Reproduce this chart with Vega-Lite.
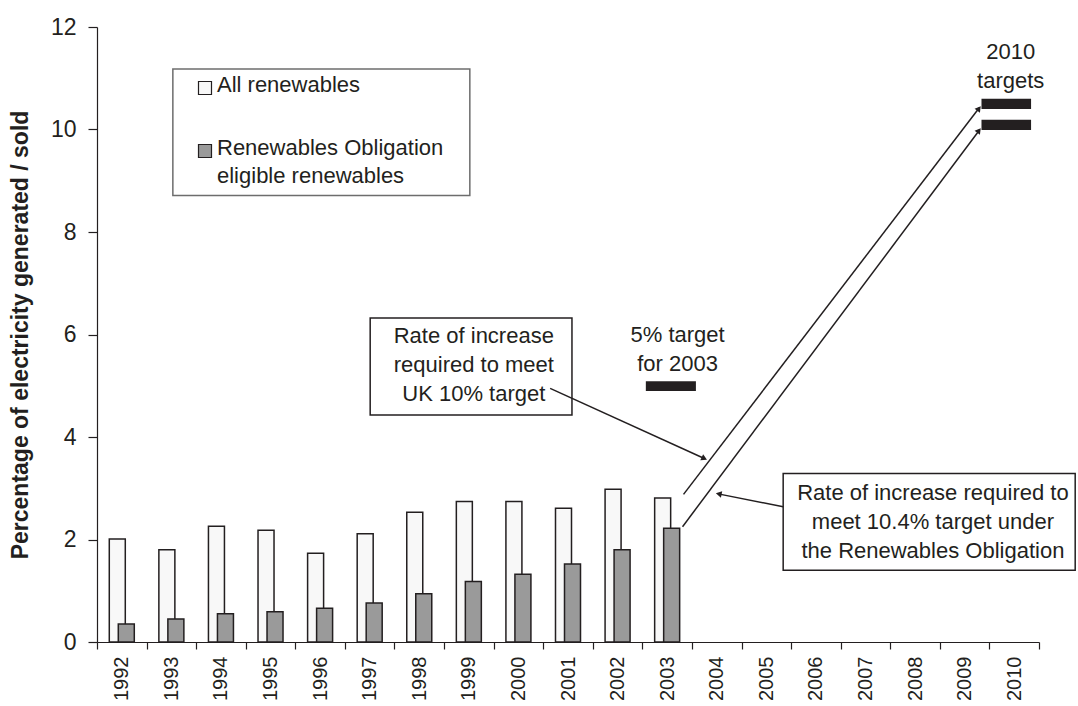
{
  "$schema": "https://vega.github.io/schema/vega-lite/v6.json",
  "autosize": {"type": "none"},
  "padding": {"left": 97, "top": 27, "right": 39, "bottom": 64},
  "width": 942,
  "height": 615,
  "background": "white",
  "config": {
    "font": "Liberation Sans",
    "view": {"stroke": null},
    "text": {"font": "Liberation Sans", "color": "#231f20"}
  },
  "resolve": {"scale": {"x": "independent"}},
  "layer": [
    {
      "data": {
        "values": [
          {"year": "1992", "all": 2.01, "ro": 0.35},
          {"year": "1993", "all": 1.80, "ro": 0.45},
          {"year": "1994", "all": 2.26, "ro": 0.55},
          {"year": "1995", "all": 2.18, "ro": 0.59},
          {"year": "1996", "all": 1.73, "ro": 0.66},
          {"year": "1997", "all": 2.11, "ro": 0.76},
          {"year": "1998", "all": 2.53, "ro": 0.94},
          {"year": "1999", "all": 2.74, "ro": 1.18},
          {"year": "2000", "all": 2.74, "ro": 1.32},
          {"year": "2001", "all": 2.61, "ro": 1.52},
          {"year": "2002", "all": 2.98, "ro": 1.80},
          {"year": "2003", "all": 2.81, "ro": 2.22}
        ]
      },
      "encoding": {
        "x": {
          "field": "year",
          "type": "ordinal",
          "scale": {
            "domain": ["1992","1993","1994","1995","1996","1997","1998","1999","2000","2001","2002","2003","2004","2005","2006","2007","2008","2009","2010"],
            "paddingInner": 0, "paddingOuter": 0
          },
          "axis": {
            "title": null,
            "tickBand": "extent",
            "labelAngle": 270,
            "labelFontSize": 20,
            "labelColor": "#231f20",
            "labelPadding": 7,
            "tickSize": 7,
            "tickColor": "#231f20",
            "domainColor": "#231f20",
            "domainWidth": 1.2,
            "tickWidth": 1.2,
            "grid": false
          }
        }
      },
      "layer": [
        {
          "mark": {"type": "bar", "width": 16, "xOffset": -4.5, "stroke": "#231f20", "strokeWidth": 1.5},
          "encoding": {
            "y": {
              "field": "all",
              "type": "quantitative",
              "scale": {"domain": [0, 12], "nice": false},
              "axis": {
                "title": "Percentage of electricity generated / sold",
                "titleFontSize": 23,
                "titleFontWeight": "bold",
                "titleColor": "#231f20",
                "titlePadding": 18,
                "values": [0, 2, 4, 6, 8, 10, 12],
                "labelFontSize": 23,
                "labelColor": "#231f20",
                "labelPadding": 12,
                "tickSize": 9,
                "tickColor": "#231f20",
                "domainColor": "#231f20",
                "domainWidth": 1.2,
                "tickWidth": 1.2,
                "grid": false
              }
            },
            "fill": {
              "datum": "All renewables",
              "type": "nominal",
              "scale": {
                "domain": ["All renewables", "Renewables Obligation eligible renewables"],
                "range": ["#f8f8f8", "#9a9a9a"]
              },
              "legend": {
                "orient": "none",
                "legendX": 97,
                "legendY": 50,
                "title": null,
                "padding": 0,
                "symbolType": "square",
                "symbolSize": 169,
                "symbolStrokeColor": "#231f20",
                "symbolStrokeWidth": 1.2,
                "labelFontSize": 22,
                "labelColor": "#231f20",
                "labelOffset": 1,
                "labelLimit": 400,
                "rowPadding": 40,
                "labelExpr": "datum.label == 'Renewables Obligation eligible renewables' ? ['Renewables Obligation', 'eligible renewables'] : datum.label",
                "encode": {
                  "labels": {
                    "update": {
                      "dy": {"value": -3},
                      "lineHeight": {"value": 28}
                    }
                  }
                }
              }
            }
          }
        },
        {
          "mark": {"type": "bar", "width": 16, "xOffset": 4.5, "stroke": "#231f20", "strokeWidth": 1.5},
          "encoding": {
            "y": {"field": "ro", "type": "quantitative"},
            "fill": {"datum": "Renewables Obligation eligible renewables", "type": "nominal"}
          }
        }
      ]
    },
    {
      "layer": [
        {
          "data": {"values": [{"x": 1993.03, "x2": 1999.02, "y": 11.18, "y2": 8.71}]},
          "mark": {"type": "rect", "fill": "transparent", "stroke": "#6d6d6d", "strokeWidth": 1.5},
          "encoding": {
            "x": {"field": "x", "type": "quantitative", "scale": {"domain": [1991.5, 2010.5], "nice": false, "zero": false}, "axis": null},
            "x2": {"field": "x2"},
            "y": {"field": "y", "type": "quantitative"},
            "y2": {"field": "y2"}
          }
        },
        {
          "data": {"values": [
            {"x": 1997.01, "x2": 2001.08, "y": 6.32, "y2": 4.43},
            {"x": 2005.34, "x2": 2011.23, "y": 3.29, "y2": 1.40}
          ]},
          "mark": {"type": "rect", "fill": "white", "stroke": "#231f20", "strokeWidth": 1.5},
          "encoding": {
            "x": {"field": "x", "type": "quantitative", "scale": {"domain": [1991.5, 2010.5], "nice": false, "zero": false}, "axis": null},
            "x2": {"field": "x2"},
            "y": {"field": "y", "type": "quantitative"},
            "y2": {"field": "y2"}
          }
        },
        {
          "data": {"values": [
            {"x": 2002.57, "x2": 2003.58, "y": 5.09, "y2": 4.90},
            {"x": 2009.34, "x2": 2010.34, "y": 10.60, "y2": 10.40},
            {"x": 2009.34, "x2": 2010.34, "y": 10.19, "y2": 9.99}
          ]},
          "mark": {"type": "rect", "fill": "#231f20"},
          "encoding": {
            "x": {"field": "x", "type": "quantitative", "scale": {"domain": [1991.5, 2010.5], "nice": false, "zero": false}, "axis": null},
            "x2": {"field": "x2"},
            "y": {"field": "y", "type": "quantitative"},
            "y2": {"field": "y2"}
          }
        },
        {
          "data": {"values": [
            {"x": 2003.33, "y": 2.88, "x2": 2009.30, "y2": 10.43},
            {"x": 2003.31, "y": 2.25, "x2": 2009.30, "y2": 9.99},
            {"x": 2000.64, "y": 4.95, "x2": 2003.75, "y2": 3.58},
            {"x": 2005.34, "y": 2.64, "x2": 2004.03, "y2": 2.89}
          ]},
          "mark": {"type": "rule", "stroke": "#231f20", "strokeWidth": 1.5},
          "encoding": {
            "x": {"field": "x", "type": "quantitative", "scale": {"domain": [1991.5, 2010.5], "nice": false, "zero": false}, "axis": null},
            "x2": {"field": "x2"},
            "y": {"field": "y", "type": "quantitative"},
            "y2": {"field": "y2"}
          }
        },
        {
          "data": {"values": [
            {"x": 2009.29, "y": 10.41},
            {"x": 2009.29, "y": 9.98}
          ]},
          "mark": {"type": "point", "shape": "triangle-up", "filled": true, "size": 45, "angle": 37, "color": "#231f20", "opacity": 1},
          "encoding": {
            "x": {"field": "x", "type": "quantitative", "scale": {"domain": [1991.5, 2010.5], "nice": false, "zero": false}, "axis": null},
            "y": {"field": "y", "type": "quantitative"}
          }
        },
        {
          "data": {"values": [{"x": 2003.75, "y": 3.58}]},
          "mark": {"type": "point", "shape": "triangle-up", "filled": true, "size": 45, "angle": 115, "color": "#231f20", "opacity": 1},
          "encoding": {
            "x": {"field": "x", "type": "quantitative", "scale": {"domain": [1991.5, 2010.5], "nice": false, "zero": false}, "axis": null},
            "y": {"field": "y", "type": "quantitative"}
          }
        },
        {
          "data": {"values": [{"x": 2004.04, "y": 2.89}]},
          "mark": {"type": "point", "shape": "triangle-up", "filled": true, "size": 45, "angle": 281, "color": "#231f20", "opacity": 1},
          "encoding": {
            "x": {"field": "x", "type": "quantitative", "scale": {"domain": [1991.5, 2010.5], "nice": false, "zero": false}, "axis": null},
            "y": {"field": "y", "type": "quantitative"}
          }
        },
        {
          "data": {"values": [
            {"x": 1999.10, "y": 5.83, "text": "Rate of increase\nrequired to meet\nUK 10% target"},
            {"x": 2008.36, "y": 2.77, "text": "Rate of increase required to\nmeet 10.4% target under\nthe Renewables Obligation"},
            {"x": 2003.21, "y": 5.86, "text": "5% target\nfor 2003"},
            {"x": 2009.93, "y": 11.38, "text": "2010\ntargets"}
          ]},
          "mark": {"type": "text", "align": "center", "baseline": "alphabetic", "fontSize": 22, "lineBreak": "\n", "lineHeight": 29, "color": "#231f20"},
          "encoding": {
            "x": {"field": "x", "type": "quantitative", "scale": {"domain": [1991.5, 2010.5], "nice": false, "zero": false}, "axis": null},
            "y": {"field": "y", "type": "quantitative"},
            "text": {"field": "text"}
          }
        }
      ]
    }
  ]
}
